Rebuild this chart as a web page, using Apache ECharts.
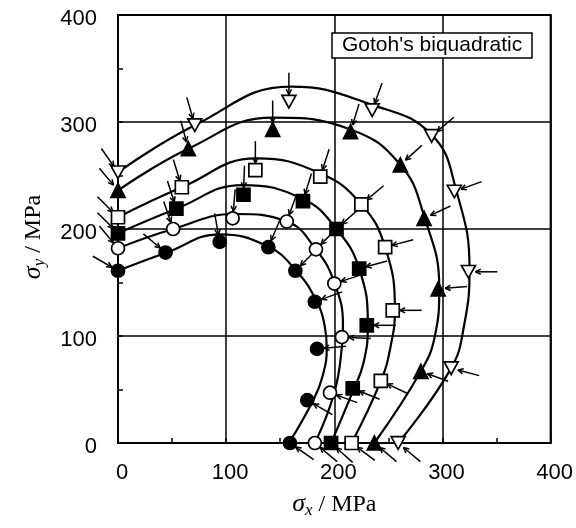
<!DOCTYPE html>
<html><head><meta charset="utf-8">
<script src="https://cdn.jsdelivr.net/npm/echarts@6/dist/echarts.min.js"></script>
<style>html,body{margin:0;padding:0;background:#fff}#c{width:576px;height:528px}</style>
</head><body><div id="c"></div>
<script>
// ---- data (MPa) ----
const xTicks = [0, 100, 200, 300, 400];
const yTicks = [0, 100, 200, 300, 400];

// measured points (sigma_x, sigma_y)
const ptsFilledCircle = [[0,161],[44,178],[94,188],[139,183],[164,161],[182,132],[184,88],[175,40],[159,0]];
const ptsOpenCircle   = [[0,182],[51,200],[106,210],[156,207],[183,181],[200,149],[207,99],[196,47],[182,0]];
const ptsFilledSquare = [[0,196],[54,219],[116,232],[171,226],[202,200],[223,163],[230,110],[217,51],[197,0]];
const ptsOpenSquare   = [[0,211],[59,239],[127,255],[187,249],[225,223],[247,183],[254,124],[243,58],[216,0]];
const ptsFilledTri    = [[0,236],[65,275],[143,293],[215,291],[261,260],[283,210],[296,144],[280,67],[237,0]];
const ptsOpenDownTri  = [[0,253],[71,297],[158,319],[235,311],[290,287],[311,235],[324,160],[308,70],[259,0]];

// direction of plastic strain increment at each point (degrees)
const dirFilledCircle = [150,140,100,67,45,20,5,-30,-35];
const dirOpenCircle   = [130,109,85,70,45,18,-3,-20,-40];
const dirFilledSquare = [135,108,88,73,42,15,0,-22,-42];
const dirOpenSquare   = [135,107,90,72,40,15,0,-25,-37];
const dirFilledTri    = [130,105,90,73,42,25,5,-20,-40];
const dirOpenDownTri  = [125,106,90,70,40,20,0,-15,-40];

// Gotoh's biquadratic yield loci
const curveFilledCircle = [[0,161],[45,178],[94,195],[138,184],[164,162],[184,132],[191,110],[193,88],[189,62],[181,41],[158,0]];
const curveOpenCircle   = [[0,182],[51,200],[108,214],[156,207],[183,181],[200,150],[208,110],[207,90],[200,47],[182,0]];
const curveFilledSquare = [[0,196],[54,219],[115,241],[171,228],[202,200],[223,163],[231,110],[227,75],[217,48],[197,0]];
const curveOpenSquare   = [[0,211],[59,239],[128,266],[187,252],[225,223],[247,183],[256,124],[252,90],[243,58],[216,0]];
const curveFilledTri    = [[0,236],[65,275],[143,304],[215,293],[261,260],[283,212],[297,145],[293,100],[280,67],[237,0]];
const curveOpenDownTri  = [[0,253],[71,297],[160,333],[235,316],[290,288],[313,235],[325,162],[320,110],[308,70],[259,0]];

const sets = [
  {pts: ptsFilledCircle, dir: dirFilledCircle, curve: curveFilledCircle, symbol: 'circle', fill: '#000', size: 13},
  {pts: ptsOpenCircle,   dir: dirOpenCircle,   curve: curveOpenCircle,   symbol: 'circle', fill: '#fff', size: 13},
  {pts: ptsFilledSquare, dir: dirFilledSquare, curve: curveFilledSquare, symbol: 'rect', fill: '#000', size: 13},
  {pts: ptsOpenSquare,   dir: dirOpenSquare,   curve: curveOpenSquare,   symbol: 'rect', fill: '#fff', size: 13},
  {pts: ptsFilledTri,    dir: dirFilledTri,    curve: curveFilledTri,    symbol: 'triangle', fill: '#000', size: 14},
  {pts: ptsOpenDownTri,  dir: dirOpenDownTri,  curve: curveOpenDownTri,  symbol: 'path://M0,0 L10,0 L5,9 Z', fill: '#fff', size: 14}
];

const series = [];
sets.forEach(s => {
  series.push({type: 'line', data: s.curve, smooth: 0.45, showSymbol: false, z: 2,
    lineStyle: {color: '#000', width: 2.2}, silent: true});
});
const arrowData = [];
sets.forEach(s => s.pts.forEach((p, i) => arrowData.push([p[0], p[1], s.dir[i]])));
series.push({
  type: 'custom', z: 3, silent: true,
  data: arrowData,
  renderItem: function (params, api) {
    const c = api.coord([api.value(0), api.value(1)]);
    const a = api.value(2) * Math.PI / 180;
    const ux = Math.cos(a), uy = -Math.sin(a);
    const r0 = 7, r1 = 29;
    const x0 = c[0] + ux * r0, y0 = c[1] + uy * r0;
    const x1 = c[0] + ux * r1, y1 = c[1] + uy * r1;
    const h = 6, sp = 0.45;
    const ca = Math.cos(sp), sa = Math.sin(sp);
    const b1x = ux * ca - uy * sa, b1y = ux * sa + uy * ca;
    const b2x = ux * ca + uy * sa, b2y = -ux * sa + uy * ca;
    const st = {stroke: '#000', lineWidth: 1.5, fill: null};
    return {type: 'group', children: [
      {type: 'line', shape: {x1: x0, y1: y0, x2: x1, y2: y1}, style: st},
      {type: 'line', shape: {x1: x0, y1: y0, x2: x0 + b1x * h, y2: y0 + b1y * h}, style: st},
      {type: 'line', shape: {x1: x0, y1: y0, x2: x0 + b2x * h, y2: y0 + b2y * h}, style: st}
    ]};
  }
});
sets.forEach(s => {
  series.push({type: 'scatter', data: s.pts, symbol: s.symbol, symbolSize: s.size, z: 5,
    symbolKeepAspect: true,
    itemStyle: {color: s.fill, borderColor: '#000', borderWidth: 1.7, opacity: 1}});
});

const labelFont = 'Liberation Sans, Arial, sans-serif';
const serif = 'Liberation Serif, Times New Roman, serif';
const nameRich = {
  s: {fontStyle: 'italic', fontSize: 26, fontFamily: serif, color: '#000'},
  sub: {fontStyle: 'italic', fontSize: 17, fontFamily: serif, color: '#000', padding: [12, 0, 0, 0]},
  n: {fontSize: 24, fontFamily: serif, color: '#000'}
};
const chart = echarts.init(document.getElementById('c'), null, {renderer: 'canvas'});
chart.setOption({
  animation: false,
  backgroundColor: '#fff',
  title: {
    text: "Gotoh's biquadratic", left: 332, top: 33,
    backgroundColor: '#fff', borderColor: '#000', borderWidth: 1.5,
    padding: [2, 10, 2, 10],
    textStyle: {fontSize: 21, fontWeight: 'normal', fontFamily: labelFont, color: '#000'}
  },
  grid: {left: 118, right: 23, top: 15, bottom: 85, show: true, borderColor: '#000', borderWidth: 2},
  xAxis: {
    type: 'value', min: xTicks[0], max: xTicks[xTicks.length - 1], interval: 100,
    axisLine: {show: true, lineStyle: {color: '#000', width: 2}},
    axisTick: {show: true, inside: true, length: 5, lineStyle: {color: '#000', width: 1.5}},
    minorTick: {show: true, splitNumber: 2, length: 5, lineStyle: {color: '#000', width: 1.5}},
    splitLine: {show: true, lineStyle: {color: '#000', width: 1.5}},
    axisLabel: {color: '#000', fontSize: 22, fontFamily: labelFont, margin: 19, padding: [0, 0, 0, 8],
      formatter: v => String(v)},
    name: '{s|σ}{sub|x}{n| / MPa}', nameLocation: 'middle', nameGap: 47,
    nameTextStyle: {color: '#000', fontFamily: serif, fontSize: 24, rich: nameRich}
  },
  yAxis: {
    type: 'value', min: yTicks[0], max: yTicks[yTicks.length - 1], interval: 100,
    axisLine: {show: true, lineStyle: {color: '#000', width: 2}},
    axisTick: {show: true, inside: true, length: 5, lineStyle: {color: '#000', width: 1.5}},
    minorTick: {show: true, splitNumber: 2, length: 5, lineStyle: {color: '#000', width: 1.5}},
    splitLine: {show: true, lineStyle: {color: '#000', width: 1.5}},
    axisLabel: {color: '#000', fontSize: 22, fontFamily: labelFont, margin: 21,
      formatter: v => '{t|' + v + '}',
      rich: {t: {color: '#000', fontSize: 22, fontFamily: labelFont, padding: [8, 0, 0, 0]}}},
    name: '{s|σ}{sub|y}{n| / MPa}', nameLocation: 'middle', nameGap: 70, nameRotate: 90,
    nameTextStyle: {color: '#000', fontFamily: serif, fontSize: 24, padding: [0, 16, 0, 0], rich: nameRich}
  },
  series: series
});
</script>
</body></html>
